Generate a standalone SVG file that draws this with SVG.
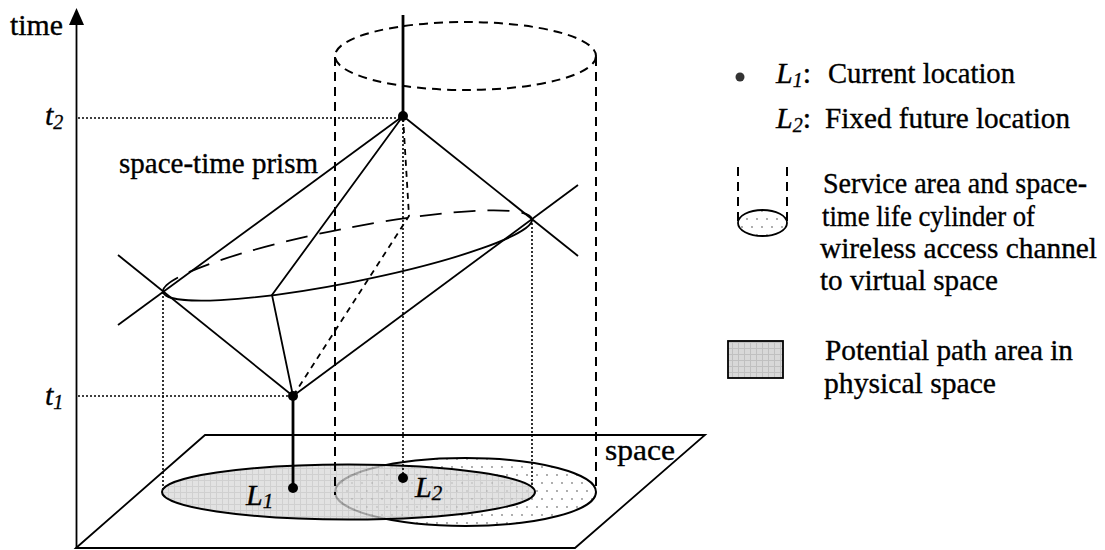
<svg xmlns="http://www.w3.org/2000/svg" width="1105" height="550" viewBox="0 0 1105 550">
<defs>
<style>
.s{fill:none;stroke:#000;stroke-width:1.8}
.thick{fill:none;stroke:#000;stroke-width:2.8}
.dash{fill:none;stroke:#000;stroke-width:2;stroke-dasharray:9 6}
.sdash{fill:none;stroke:#000;stroke-width:1.8;stroke-dasharray:6 5}
.ldash{fill:none;stroke:#000;stroke-width:1.8;stroke-dasharray:22 12}
.dot{fill:none;stroke:#000;stroke-width:1.6;stroke-dasharray:2 2}
.pt{fill:#000}
text{font-family:"Liberation Serif","Times New Roman",serif;font-size:30px;fill:#000;stroke:#000;stroke-width:0.35}
.it{font-style:italic}
</style>
<pattern id="grid" width="6" height="6" patternUnits="userSpaceOnUse">
<rect width="6" height="6" fill="#d8d8d8"/>
<path d="M0 0.5H6M0.5 0V6" stroke="#c0c0c0" stroke-width="1"/>
</pattern>
<pattern id="dots" width="10" height="16" patternUnits="userSpaceOnUse">
<rect width="10" height="16" fill="#fff"/>
<circle cx="2" cy="3" r="0.9" fill="#888"/>
<circle cx="7" cy="11" r="0.9" fill="#888"/>
</pattern>
</defs>
<rect width="1105" height="550" fill="#fff"/>

<g id="axis">
<line class="s" x1="76.5" y1="548" x2="76.5" y2="22" stroke-width="2"/>
<polygon points="76.5,8 69,25 84,25" fill="#000"/>
<text x="10" y="35" textLength="53" lengthAdjust="spacingAndGlyphs">time</text>
</g>

<g id="plane">
<polygon class="s" points="76,548 205,435 705,435 575,548" stroke-width="2"/>
<text x="605" y="460" textLength="70" lengthAdjust="spacingAndGlyphs">space</text>
</g>

<g id="service-area">
<ellipse cx="465.5" cy="492" rx="130.5" ry="34" fill="url(#dots)" stroke="#000" stroke-width="2"/>
</g>
<g id="path-area">
<ellipse cx="348.5" cy="492" rx="186.5" ry="27.5" fill="url(#grid)" fill-opacity="0.75"/>
<ellipse cx="348.5" cy="492" rx="186.5" ry="27.5" fill="none" stroke="#000" stroke-width="2"/>
</g>

<g id="connectors">
<ellipse class="dash" cx="465.5" cy="56" rx="130.5" ry="34"/>
<line class="dash" x1="335" y1="57" x2="335" y2="495"/>
<line class="dash" x1="596" y1="57" x2="596" y2="492"/>
<line class="dot" x1="78" y1="118" x2="403" y2="118"/>
<line class="dot" x1="78" y1="396" x2="293" y2="396"/>
<line class="dot" x1="163" y1="292" x2="163" y2="492"/>
<line class="dot" x1="532" y1="219" x2="532" y2="486"/>
<line class="dot" x1="403" y1="116" x2="403" y2="478"/>
<line class="s" x1="403" y1="116" x2="578" y2="256"/>
<line class="s" x1="118" y1="325" x2="403" y2="116"/>
<line class="s" x1="118" y1="255" x2="293" y2="396"/>
<line class="s" x1="293" y1="396" x2="578" y2="185"/>
<polyline class="s" points="403,116 272,295 293,396"/>
<polyline class="sdash" points="403,116 409,216 293,396"/>
<path class="s" d="M163,292 A188,27 -11.2 0 0 532,219"/>
<path class="ldash" d="M163,292 A188,27 -11.2 0 1 532,219"/>
<line class="thick" x1="403" y1="15" x2="403" y2="116"/>
<line class="thick" x1="293" y1="396" x2="293" y2="488"/>
<text x="119" y="173" textLength="199" lengthAdjust="spacingAndGlyphs">space-time prism</text>
</g>

<g id="t2">
<circle class="pt" cx="403" cy="116" r="5"/>
<text x="45" y="125" class="it">t<tspan font-size="20" dy="4">2</tspan></text>
</g>
<g id="t1">
<circle class="pt" cx="293" cy="396" r="5"/>
<text x="45" y="405" class="it">t<tspan font-size="20" dy="4">1</tspan></text>
</g>
<g id="L1">
<circle class="pt" cx="293" cy="488" r="5"/>
<text x="246" y="505" class="it" font-size="32">L<tspan font-size="21" dy="3">1</tspan></text>
</g>
<g id="L2">
<circle class="pt" cx="403" cy="478" r="5"/>
<text x="415" y="497" class="it" font-size="32">L<tspan font-size="21" dy="3">2</tspan></text>
</g>

<g id="legend-L1">
<circle cx="740" cy="77" r="4.5" fill="#333"/>
<text x="776" y="83"><tspan class="it">L</tspan><tspan class="it" font-size="20" dy="4">1</tspan><tspan dy="-4">:</tspan></text>
<text x="828" y="83" textLength="187" lengthAdjust="spacingAndGlyphs">Current location</text>
</g>
<g id="legend-L2">
<text x="776" y="128"><tspan class="it">L</tspan><tspan class="it" font-size="20" dy="4">2</tspan><tspan dy="-4">:</tspan></text>
<text x="825" y="128" textLength="245" lengthAdjust="spacingAndGlyphs">Fixed future location</text>
</g>
<g id="legend-cylinder">
<line class="dash" x1="738" y1="167" x2="738" y2="222" stroke-width="1.6" stroke-dasharray="6 5"/>
<line class="dash" x1="787" y1="167" x2="787" y2="222" stroke-width="1.6" stroke-dasharray="6 5"/>
<ellipse cx="762.5" cy="223" rx="24.5" ry="13" fill="url(#dots)" stroke="#000" stroke-width="1.8"/>
<text x="823" y="193" textLength="264" lengthAdjust="spacingAndGlyphs">Service area and space-</text>
<text x="822" y="226" textLength="213" lengthAdjust="spacingAndGlyphs">time life cylinder of</text>
<text x="820" y="258" textLength="277" lengthAdjust="spacingAndGlyphs">wireless access channel</text>
<text x="820" y="290" textLength="178" lengthAdjust="spacingAndGlyphs">to virtual space</text>
</g>
<g id="legend-area">
<rect x="728" y="341" width="55" height="37" fill="url(#grid)" stroke="#000" stroke-width="1.8"/>
<text x="825" y="360" textLength="248" lengthAdjust="spacingAndGlyphs">Potential path area in</text>
<text x="824" y="393" textLength="172" lengthAdjust="spacingAndGlyphs">physical space</text>
</g>
</svg>
